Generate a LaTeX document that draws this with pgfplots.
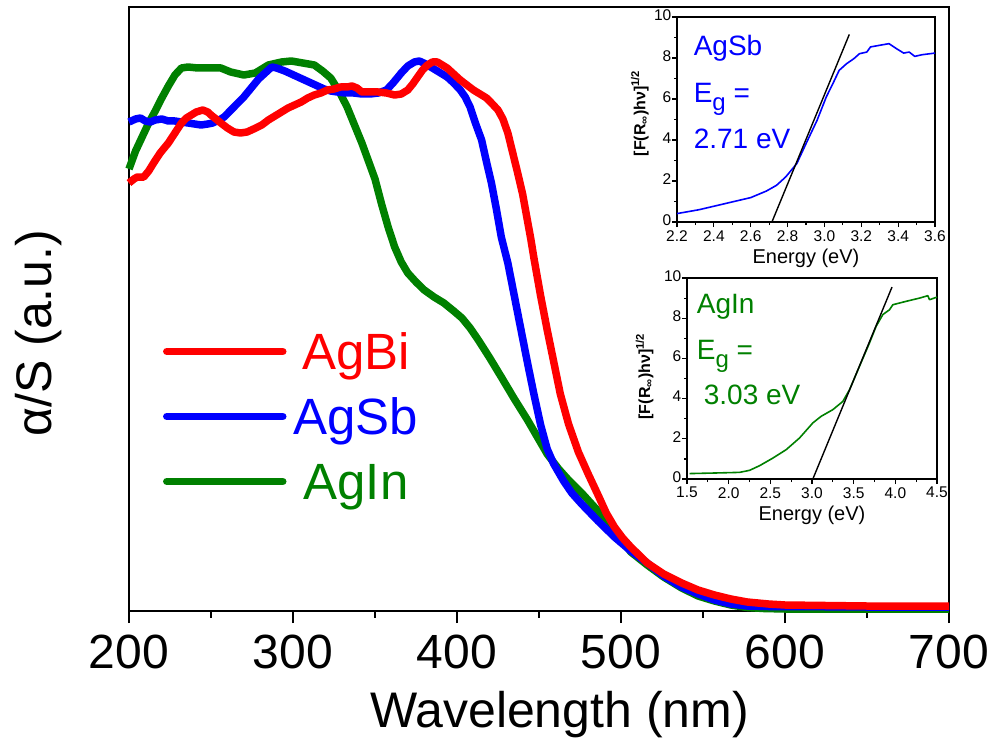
\documentclass[border=0pt]{standalone}
\usepackage{pgfplots}
\pgfplotsset{compat=1.18}
\usepackage{pgfplotstable}
\usepackage{fontspec}
\setmainfont{Liberation Sans}
\definecolor{cRed}{RGB}{255,0,0}
\definecolor{cBlue}{RGB}{0,0,255}
\definecolor{cGreen}{RGB}{0,128,0}

\pgfplotstableread{
wl y
200 440
204 458
208 472
212 486
216 498
220 511
224 523
228 534
232 541
236 542
242 541
250 541
256 541
262 537
270 534
277 536
285 544
293 547
299 548
306 546
313 544
318 538
323 531
328 518
333 502
337 486
342 466
346 448
350 430
354 405
358 382
362 362
366 347
370 336
375 327
380 319
386 312
392 306
398 298
403 291
408 281
413 269
420 251
427 232
435 210
443 189
449 172
455 155
462 140
468 129
476 116
486 98
493 84
500 70
506 57
516 44
526 32
537 21
547 13
557 8
567 4
577 1.5
587 0.5
600 0
700 0
}\agin

\pgfplotstableread{
wl y
200 487
204 490
207 491
210 488
213 487
216 489
220 490
224 488
228 488
232 487
236 486
240 485
244 484
248 485
251 486
255 489
258 492
261 497
264 502
267 507
270 512
273 518
276 524
279 530
283 536
287 542
290 541
295 538
299 535
303 532
307 529
311 526
315 523
319 520
323 518
327 517
332 516
337 516
342 515
347 515
352 516
357 519
361 526
366 536
370 543
374 547
377 548
381 545
384 542
389 537
394 532
398 526
402 519
405 512
408 502
411 487
415 469
418 447
421 426
424 400
427 372
431 346
434 321
437 296
440 271
443 246
447 214
451 184
455 160
459 145
465 128
470 116
476 105
486 88
496 72
506 58
516 46
526 33
537 22
547 15
557 9
567 5
577 3
590 2.5
600 2.5
650 2
700 2
}\agsb

\pgfplotstableread{
wl y
200 426
203 430
205 432
209 432
212 438
215 446
219 456
224 466
228 476
232 486
235 491
238 494
241 497
245 499
248 497
250 494
253 490
256 486
260 481
264 477
268 476
272 477
276 480
281 484
285 489
289 493
293 497
297 501
301 504
305 507
309 511
313 514
317 516
321 519
325 520
329 522
333 522
336 523
339 521
342 517
347 517
352 517
357 516
362 514
366 515
370 519
373 525
376 532
379 539
382 544
385 547
388 547
391 544
394 541
398 535
402 529
406 524
410 519
414 515
418 511
421 506
425 499
428 490
431 476
434 456
437 436
440 415
443 388
445 370
447 350
451 313
455 279
459 247
463 215
468 185
474 157
480 135
486 114
491 96
496 82
501 71
506 62
516 46
526 35
537 26
547 19
557 14
567 10
577 7
590 5
600 4
650 3
700 3
}\agbi

\begin{document}
\begin{tikzpicture}
\useasboundingbox (0,0) rectangle (992pt,740pt);
% ---------------- main axis ----------------
\begin{axis}[
  at={(129pt,129pt)}, anchor=south west,
  scale only axis, width=820pt, height=604pt,
  xmin=200, xmax=700, ymin=-2, ymax=602,
  xtick={200,300,400,500,600,700}, minor x tick num=1,
  ytick=\empty,
  xtick pos=bottom, tick align=outside,
  major tick length=12pt, minor tick length=6.5pt,
  tick style={black, line width=2.5pt},
  axis line style={line width=2.8pt},
  clip=false,
  /pgf/number format/assume math mode=true,
  xticklabel style={font=\fontsize{48}{48}\selectfont, inner sep=0pt, yshift=-12pt},
  xlabel={Wavelength (nm)},
  xlabel style={at={(axis description cs:0.525,0)}, anchor=base, yshift=-116pt,
    inner sep=0pt, font=\fontsize{50}{50}\selectfont},
  ylabel={α/S (a.u.)},
  ylabel style={at={(axis description cs:-0.1098,0.46)}, anchor=center,
    inner sep=0pt, font=\fontsize{50}{50}\selectfont},
  reverse legend,
  legend image code/.code={\draw[#1, line cap=round] (0pt,0pt) -- (116pt,0pt);},
  legend style={at={(axis description cs:0.0415,0.4603)}, anchor=north west,
    draw=none, fill=none, inner sep=0pt, outer sep=0pt,
    row sep=28pt, column sep=7pt,
    font=\fontsize{51}{51}\selectfont,
    nodes={inner sep=0pt, text height=37pt, text depth=0pt}},
]
\addplot[cGreen, line width=7.5pt, line join=round] table[x=wl,y=y]{\agin};
\addlegendentry{\textcolor{cGreen}{AgIn}}
\addplot[cBlue, line width=7.5pt, line join=round] table[x=wl,y=y]{\agsb};
\addlegendentry{\textcolor{cBlue}{AgSb}}
\addplot[cRed, line width=7.5pt, line join=round] table[x=wl,y=y]{\agbi};
\addlegendentry{\textcolor{cRed}{AgBi}}
\end{axis}

% ---------------- top inset (AgSb) ----------------
\begin{axis}[
  at={(677pt,518pt)}, anchor=south west,
  scale only axis, width=258pt, height=205pt,
  xmin=2.2, xmax=3.6, ymin=0, ymax=10,
  xtick={2.2,2.4,2.6,2.8,3.0,3.2,3.4,3.6}, ytick={0,2,4,6,8,10},
  minor x tick num=1, minor y tick num=1,
  xtick pos=bottom, ytick pos=left, tick align=outside,
  major tick length=5pt, minor tick length=3pt,
  tick style={black, line width=1.2pt},
  axis line style={line width=1.5pt},
  axis background/.style={fill=white},
  /pgf/number format/assume math mode=true,
  x tick label style={/pgf/number format/.cd, fixed, fixed zerofill, precision=1, /tikz/.cd},
  tick label style={font=\fontsize{15.5}{15.5}\selectfont, inner sep=1pt},
  xticklabel style={yshift=-2pt},
  yticklabel style={yshift=2pt, inner sep=0.5pt},
  xlabel={Energy (eV)},
  xlabel style={at={(axis description cs:0.5,0)}, anchor=base, yshift=-41pt,
    inner sep=0pt, font=\fontsize{20}{20}\selectfont},
  ylabel={\textbf{[F(R\textsubscript{∞})hν]\textsuperscript{1/2}}},
  ylabel style={at={(axis description cs:-0.144,0.53)}, anchor=center,
    inner sep=0pt, font=\fontsize{16}{16}\selectfont},
]
\addplot[cBlue, line width=1.6pt, line join=round] coordinates {
(2.20,0.41) (2.32,0.60) (2.50,0.98) (2.60,1.19) (2.685,1.51) (2.74,1.79)
(2.79,2.20) (2.85,2.85) (2.90,3.82) (2.96,4.96) (3.01,6.10) (3.05,6.83)
(3.08,7.40) (3.12,7.72) (3.16,7.97) (3.19,8.21) (3.23,8.29) (3.25,8.54)
(3.30,8.62) (3.35,8.70) (3.39,8.46) (3.43,8.24) (3.46,8.29) (3.49,8.08)
(3.53,8.16) (3.60,8.24)};
\addplot[black, line width=1.4pt] coordinates {(2.715,0) (3.135,9.15)};
\node[anchor=base west, inner sep=0pt, text=cBlue, font=\fontsize{28}{28}\selectfont] at (axis cs:2.29,8.13) {AgSb};
\node[anchor=base west, inner sep=0pt, text=cBlue, font=\fontsize{28}{28}\selectfont] at (axis cs:2.29,5.84) {E\raisebox{-0.28em}{\fontsize{24}{24}\selectfont g} =};
\node[anchor=base west, inner sep=0pt, text=cBlue, font=\fontsize{28}{28}\selectfont] at (axis cs:2.29,3.6) {2.71 eV};
\end{axis}

% ---------------- bottom inset (AgIn) ----------------
\begin{axis}[
  at={(687pt,261pt)}, anchor=south west,
  scale only axis, width=250pt, height=201pt,
  xmin=1.5, xmax=4.5, ymin=0, ymax=10,
  xtick={1.5,2.0,2.5,3.0,3.5,4.0,4.5}, ytick={0,2,4,6,8,10},
  minor x tick num=1, minor y tick num=1,
  xtick pos=bottom, ytick pos=left, tick align=outside,
  major tick length=5pt, minor tick length=3pt,
  tick style={black, line width=1.2pt},
  axis line style={line width=1.5pt},
  axis background/.style={fill=white},
  /pgf/number format/assume math mode=true,
  x tick label style={/pgf/number format/.cd, fixed, fixed zerofill, precision=1, /tikz/.cd},
  tick label style={font=\fontsize{15.5}{15.5}\selectfont, inner sep=1pt},
  xticklabel style={yshift=-2pt},
  yticklabel style={yshift=2pt, inner sep=0.5pt},
  xlabel={Energy (eV)},
  xlabel style={at={(axis description cs:0.5,0)}, anchor=base, yshift=-41pt,
    inner sep=0pt, font=\fontsize{20}{20}\selectfont},
  ylabel={\textbf{[F(R\textsubscript{∞})hν]\textsuperscript{1/2}}},
  ylabel style={at={(axis description cs:-0.17,0.51)}, anchor=center,
    inner sep=0pt, font=\fontsize{16}{16}\selectfont},
]
\addplot[cGreen, line width=1.6pt, line join=round] coordinates {
(1.53,0.27) (1.85,0.30) (2.13,0.33) (2.25,0.43) (2.37,0.66) (2.53,1.04)
(2.69,1.46) (2.85,2.04) (3.01,2.79) (3.11,3.12) (3.25,3.45) (3.37,3.86)
(3.45,4.44) (3.57,5.61) (3.69,6.77) (3.77,7.60) (3.85,8.18) (3.93,8.42)
(3.97,8.67) (4.13,8.84) (4.29,9.00) (4.39,9.12) (4.41,8.92) (4.50,9.05)};
\addplot[black, line width=1.4pt] coordinates {(3.01,0) (3.96,9.55)};
\node[anchor=base west, inner sep=0pt, text=cGreen, font=\fontsize{28}{28}\selectfont] at (axis cs:1.616,8.22) {AgIn};
\node[anchor=base west, inner sep=0pt, text=cGreen, font=\fontsize{28}{28}\selectfont] at (axis cs:1.616,5.94) {E\raisebox{-0.28em}{\fontsize{24}{24}\selectfont g} =};
\node[anchor=base west, inner sep=0pt, text=cGreen, font=\fontsize{28}{28}\selectfont] at (axis cs:1.70,3.7) {3.03 eV};
\end{axis}
\end{tikzpicture}
\end{document}
